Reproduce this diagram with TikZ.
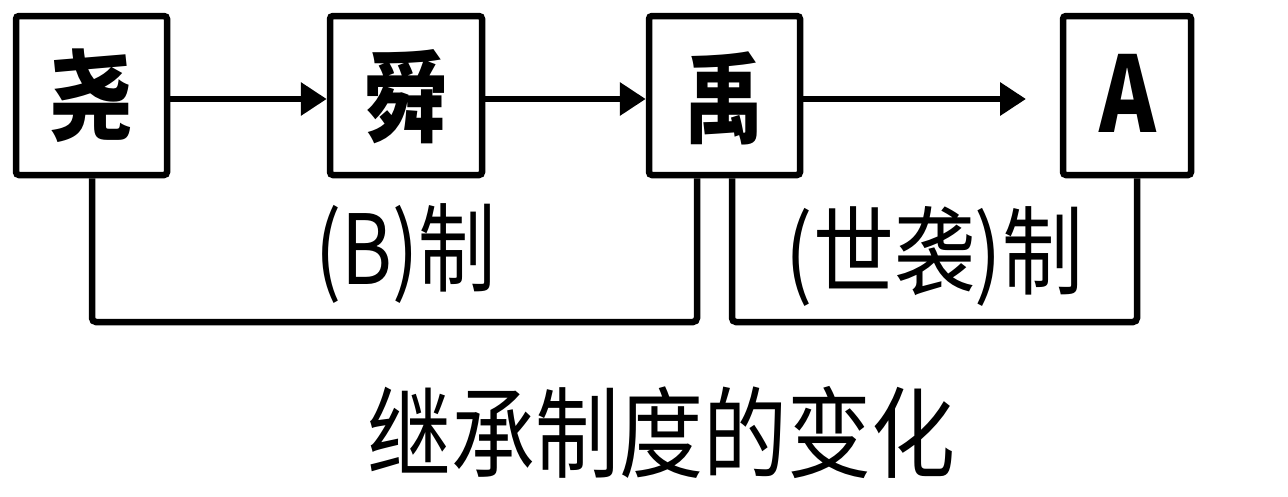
\documentclass[tikz,border=0pt]{standalone}
\usepackage{fontspec}
\usepackage{graphicx}
\usetikzlibrary{arrows.meta}
\newfontfamily\cjk{Noto Sans CJK SC}
\tikzset{
  box/.style={draw=black, line width=6.5pt, rounded corners=3pt, minimum height=159pt, inner sep=0pt, fill=white},
  lbl/.style={font=\cjk\bfseries\fontsize{88}{88}\selectfont, inner sep=0pt},
  conn/.style={line width=6.5pt, -{Triangle[length=26pt,width=32pt]}},
  brk/.style={line width=6.5pt, rounded corners=4pt},
  mid/.style={font=\cjk\fontsize{88}{88}\selectfont, inner sep=0pt},
  ttl/.style={font=\cjk\fontsize{84}{84}\selectfont, inner sep=0pt}
}
\begin{document}
\begin{tikzpicture}[x=1pt,y=-1pt]
\useasboundingbox (0,0) rectangle (1288,496);
\fill[white] (0,0) rectangle (1288,496);
% boxes
\node[box, minimum width=151pt] (yao) at (91.5,95.5) {};
\node[box, minimum width=152pt] (shun) at (406,95.5) {};
\node[box, minimum width=151pt] (yu) at (724.5,95.5) {};
\node[box, minimum width=128pt] (A) at (1127,95.5) {};
% labels
\node[lbl] (tyao) at (91.5,96) {\scalebox{0.95}[1.12]{尧}};
\node[lbl] (tshun) at (406,97) {\scalebox{0.95}[1.12]{舜}};
\node[lbl] (tyu) at (724,98) {\scalebox{0.9}[1.12]{禹}};
\node[font=\cjk\bfseries\fontsize{100}{100}\selectfont, inner sep=0pt] (tA) at (1127.5,93.5) {\scalebox{0.86}[1.05]{A}};
% arrows
\coordinate (aend) at (1026,99);
\draw[conn] ([yshift=-3.5pt]yao.east) -- ([yshift=-3.5pt]shun.west);
\draw[conn] ([yshift=-3.5pt]shun.east) -- ([yshift=-3.5pt]yu.west);
\draw[conn] ([yshift=-3.5pt]yu.east) -- (aend);
% brackets
\coordinate (b1l) at (92,322);
\coordinate (b1r) at (697,322);
\coordinate (b2l) at (732,322);
\coordinate (b2r) at (1137,322);
\draw[brk] (b1l |- yao.south) -- (b1l) -- (b1r) -- (b1r |- yu.south);
\draw[brk] (b2l |- yu.south) -- (b2l) -- (b2r) -- (b2r |- A.south);
% texts
\node[mid] (tB) at (406,254) {\scalebox{0.88}[1.1]{(B)制}};
\node[mid] (tS) at (934.5,256) {\scalebox{0.92}[1.1]{(世袭)制}};
\node[ttl] (title) at (661,432) {\scalebox{1}[1.18]{继承制度的变化}};
\end{tikzpicture}
\end{document}
